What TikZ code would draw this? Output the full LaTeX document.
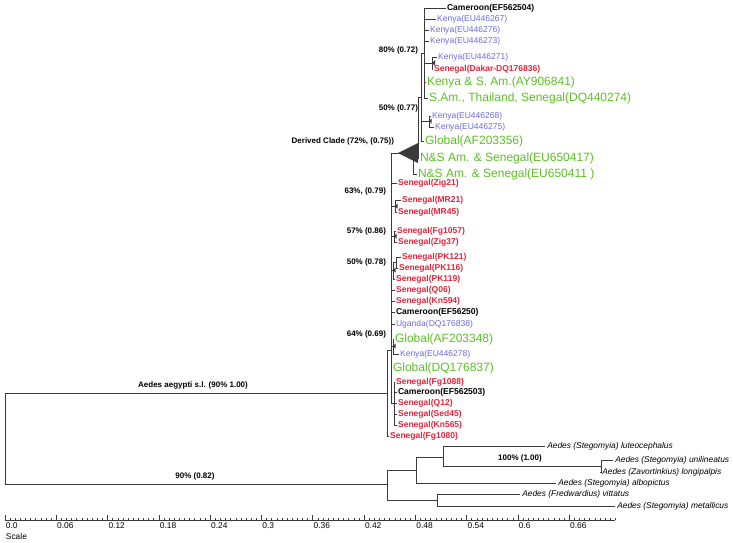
\documentclass[tikz,border=0pt]{standalone}
\usepackage{fontspec}
\setmainfont{Liberation Sans}
\usepackage{xcolor}
\usepackage{tikz}
\usetikzlibrary{positioning, arrows.meta}
\definecolor{kenyablue}{HTML}{6B6BDE}
\definecolor{senegalred}{HTML}{E6233A}
\definecolor{globalgreen}{HTML}{5CBF24}
\definecolor{branchgray}{HTML}{3A3A3A}
\newcommand{\cladetri}[2]{\fill[branchgray] (#1) -- ++(#2,-#2) -- ++(0,2*#2) -- cycle;}

\begin{document}
\begin{tikzpicture}[x=0.75pt, y=-0.75pt,
  br/.style={branchgray, line width=0.5pt},
  leaflab/.style={anchor=west, inner sep=0.6pt, font=\fontsize{6.4}{7}\selectfont},
  kenyalab/.style={leaflab, text=kenyablue},
  senlab/.style={leaflab, text=senegalred, font=\fontsize{6.4}{7}\selectfont\bfseries},
  camlab/.style={leaflab, text=black, font=\fontsize{6.4}{7}\selectfont\bfseries},
  globlab/.style={leaflab, text=globalgreen, font=\fontsize{9}{10}\selectfont},
  outlab/.style={leaflab, inner xsep=1.5pt, font=\fontsize{6.3}{7}\selectfont\itshape},
  supplab/.style={anchor=east, inner sep=0.6pt, font=\fontsize{6}{7}\selectfont\bfseries},
  scalelab/.style={anchor=north west, inner sep=0.5pt, font=\fontsize{6.3}{7}\selectfont}]
  \useasboundingbox (0,0) rectangle (733,543);
  % derived clade: leaves
  \node[camlab] (cam504) at (446,8) {Cameroon(EF562504)};
  \node[kenyalab] (k267) at (436,19) {Kenya(EU446267)};
  \node[kenyalab] (k276) at (429,30) {Kenya(EU446276)};
  \node[kenyalab] (k273) at (429,41) {Kenya(EU446273)};
  \node[kenyalab] (k271) at (437,57) {Kenya(EU446271)};
  \node[senlab] (dakar) at (433,69) {Senegal(Dakar-DQ176836)};
  \node[globlab] (ksam) at (426,82) {Kenya \& S. Am.(AY906841)};
  \node[globlab] (samthai) at (428,98) {S.Am., Thailand, Senegal(DQ440274)};
  \node[kenyalab] (k268) at (431,116) {Kenya(EU446268)};
  \node[kenyalab] (k275) at (434,127) {Kenya(EU446275)};
  \node[globlab] (gl356) at (424,141) {Global(AF203356)};
  \node[globlab] (ns417) at (419,158) {N\&S Am. \& Senegal(EU650417)};
  \node[globlab] (ns411) at (417,174) {N\&S Am. \& Senegal(EU650411 )};
  % senegal grade: leaves
  \node[senlab] (zig21) at (397,183) {Senegal(Zig21)};
  \node[senlab] (mr21) at (401,200) {Senegal(MR21)};
  \node[senlab] (mr45) at (397,212) {Senegal(MR45)};
  \node[senlab] (fg1057) at (396,231) {Senegal(Fg1057)};
  \node[senlab] (zig37) at (397,242) {Senegal(Zig37)};
  \node[senlab] (pk121) at (401,257) {Senegal(PK121)};
  \node[senlab] (pk116) at (398,268) {Senegal(PK116)};
  \node[senlab] (pk119) at (395,279) {Senegal(PK119)};
  \node[senlab] (q06) at (395,290) {Senegal(Q06)};
  \node[senlab] (kn594) at (395,301) {Senegal(Kn594)};
  \node[camlab] (cam250) at (395,312) {Cameroon(EF56250)};
  \node[kenyalab] (uga) at (395,324) {Uganda(DQ176838)};
  \node[globlab] (gl348) at (394,339) {Global(AF203348)};
  \node[kenyalab] (k278) at (399,354) {Kenya(EU446278)};
  \node[globlab] (gl837) at (392,368) {Global(DQ176837)};
  \node[senlab] (fg1088) at (395,382) {Senegal(Fg1088)};
  \node[camlab] (cam503) at (397,392) {Cameroon(EF562503)};
  \node[senlab] (q12) at (397,403) {Senegal(Q12)};
  \node[senlab] (sed45) at (397,414) {Senegal(Sed45)};
  \node[senlab] (kn565) at (397,425) {Senegal(Kn565)};
  \node[senlab] (fg1080) at (389,436) {Senegal(Fg1080)};
  % outgroup: leaves
  \node[outlab] (lut) at (545,446) {Aedes (Stegomyia) luteocephalus};
  \node[outlab] (uni) at (613,460) {Aedes (Stegomyia) unilineatus};
  \node[outlab] (lon) at (600,472) {Aedes (Zavortinkius) longipalpis};
  \node[outlab] (alb) at (556,483) {Aedes (Stegomyia) albopictus};
  \node[outlab] (vit) at (520,494) {Aedes (Fredwardius) vittatus};
  \node[outlab] (met) at (615,506) {Aedes (Stegomyia) metallicus};
  % internal nodes
  \coordinate (nA) at (424,53);
  \coordinate (nK1) at (432,63);
  \coordinate (nK2) at (429,121);
  \coordinate (nB) at (421,97);
  \coordinate (nC) at (418,127);
  \coordinate (nDC) at (398,153);
  \coordinate (nNS) at (413,153);
  \coordinate (nMR) at (395,206);
  \coordinate (nFg) at (394,236);
  \coordinate (nPK2) at (396,262);
  \coordinate (nPK) at (393,270);
  \coordinate (n64) at (393,346);
  \coordinate (nBot) at (394,403);
  \coordinate (nP) at (391,350);
  \coordinate (nR) at (387,393);
  \coordinate (nOut) at (387,484);
  \coordinate (nRoot) at (5,438);
  \coordinate (oB) at (416,470);
  \coordinate (oC) at (443,457);
  \coordinate (oD) at (601,466);
  \coordinate (oE) at (437,500);
  % branches
  \foreach \c in {cam504,k267,k276,k273,nK1,ksam,samthai} \draw[br] (nA) |- (\c);
  \foreach \c in {k271,dakar} \draw[br] (nK1) |- (\c);
  \foreach \c in {k268,k275} \draw[br] (nK2) |- (\c);
  \foreach \c in {nA,nK2,gl356} \draw[br] (nB) |- (\c);
  \foreach \c in {nB,ns417} \draw[br] (nC) |- (\c);
  \draw[br] (nDC) -| (nC);
  \draw[br] (nDC) -- (nNS);
  \draw[br] (nNS) |- (ns411);
  \foreach \c in {nDC,zig21,nMR,nFg,nPK,q06,kn594,cam250,uga,n64,gl837,nBot} \draw[br] (nP) |- (\c);
  \foreach \c in {mr21,mr45} \draw[br] (nMR) |- (\c);
  \foreach \c in {fg1057,zig37} \draw[br] (nFg) |- (\c);
  \foreach \c in {nPK2,pk119} \draw[br] (nPK) |- (\c);
  \foreach \c in {pk121,pk116} \draw[br] (nPK2) |- (\c);
  \foreach \c in {gl348,k278} \draw[br] (n64) |- (\c);
  \foreach \c in {fg1088,cam503,q12,sed45,kn565} \draw[br] (nBot) |- (\c);
  \foreach \c in {nP,fg1080} \draw[br] (nR) |- (\c);
  \foreach \c in {nR,nOut} \draw[br] (nRoot) |- (\c);
  \foreach \c in {oB,oE} \draw[br] (nOut) |- (\c);
  \foreach \c in {oC,alb} \draw[br] (oB) |- (\c);
  \foreach \c in {lut,oD} \draw[br] (oC) |- (\c);
  \foreach \c in {uni,lon} \draw[br] (oD) |- (\c);
  \foreach \c in {vit,met} \draw[br] (oE) |- (\c);
  % node markers
  \fill[branchgray] (nDC) -- (418,143) -- (418,163) -- cycle;
  \cladetri{nK1}{3}
  \cladetri{nK2}{2.5}
  \cladetri{nMR}{2.5}
  \cladetri{nFg}{2.5}
  \cladetri{nPK}{2.5}
  \cladetri{n64}{2.5}
  % support values
  \node[supplab] (s80) at (419,50) {80\% (0.72)};
  \node[supplab] (s50a) at (419,108) {50\% (0.77)};
  \node[supplab] (sdc) at (395,141) {Derived Clade (72\%, (0.75))};
  \node[supplab] (s63) at (387,191) {63\%, (0.79)};
  \node[supplab] (s57) at (387,231) {57\% (0.86)};
  \node[supplab] (s50b) at (387,262) {50\% (0.78)};
  \node[supplab] (s64) at (387,334) {64\% (0.69)};
  \node[supplab, anchor=center] (saeg) at (193,385) {Aedes aegypti s.l. (90\% 1.00)};
  \node[supplab, anchor=center] (s90) at (195,476) {90\% (0.82)};
  \node[supplab, anchor=center] (s100) at (520,458) {100\% (1.00)};
  % scale
  \draw[br] (5,520) -- (615,520);
  \foreach \i in {0,...,119} \draw[br] ({5+5.13*\i},520) -- ++(0,-2);
  \foreach \v [count=\k from 0] in {0.0,0.06,0.12,0.18,0.24,0.3,0.36,0.42,0.48,0.54,0.6,0.66} {
    \draw[br] ({5+51.3*\k},520) -- ++(0,-5);
    \node[scalelab] (t\k) at ({5+51.3*\k},522) {\v};
  }
  \node[scalelab] (scl) at (5,532) {Scale};
\end{tikzpicture}
\end{document}
